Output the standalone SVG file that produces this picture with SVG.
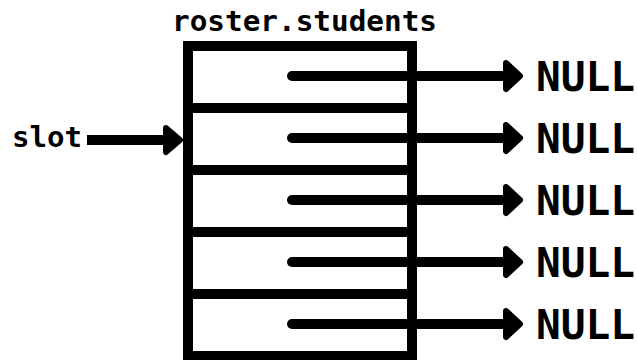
<svg xmlns="http://www.w3.org/2000/svg" width="637" height="360" viewBox="0 0 637 360">
<style>
.mono{font-family:"DejaVu Sans Mono","Liberation Mono",monospace;font-weight:bold;fill:#000}
.null{font-family:"DejaVu Sans Mono","Liberation Mono",monospace;font-weight:bold;font-size:40px;fill:#000}
.ln{stroke:#000;stroke-width:10;fill:none}
.hd{fill:#000;stroke:#000;stroke-width:6;stroke-linejoin:round}
</style>
<rect width="637" height="360" fill="#fff"/>
<g id="array">
<text class="mono" x="172" y="31" font-size="29" textLength="265" lengthAdjust="spacingAndGlyphs">roster.students</text>
<rect class="ln" x="188" y="46" width="224" height="310"/>
<line class="ln" x1="188" y1="108" x2="412" y2="108"/>
<line class="ln" x1="188" y1="170" x2="412" y2="170"/>
<line class="ln" x1="188" y1="232" x2="412" y2="232"/>
<line class="ln" x1="188" y1="294" x2="412" y2="294"/>
</g>
<g id="slot">
<text class="mono" x="12" y="147" font-size="29" textLength="70" lengthAdjust="spacingAndGlyphs">slot</text>
</g>
<g id="nulls">
<text class="null" x="536" y="90.5" textLength="99" lengthAdjust="spacingAndGlyphs">NULL</text>
<text class="null" x="536" y="152.5" textLength="99" lengthAdjust="spacingAndGlyphs">NULL</text>
<text class="null" x="536" y="214.5" textLength="99" lengthAdjust="spacingAndGlyphs">NULL</text>
<text class="null" x="536" y="276.5" textLength="99" lengthAdjust="spacingAndGlyphs">NULL</text>
<text class="null" x="536" y="338.5" textLength="99" lengthAdjust="spacingAndGlyphs">NULL</text>
</g>
<g id="connectors">
<line class="ln" x1="87" y1="140" x2="172" y2="140"/>
<polygon class="hd" points="166,128 180,140 166,152"/>
<g stroke-linecap="round">
<line class="ln" x1="292" y1="76" x2="512" y2="76"/>
<line class="ln" x1="292" y1="138" x2="512" y2="138"/>
<line class="ln" x1="292" y1="200" x2="512" y2="200"/>
<line class="ln" x1="292" y1="262" x2="512" y2="262"/>
<line class="ln" x1="292" y1="324" x2="512" y2="324"/>
</g>
<polygon class="hd" points="506,63 520,76 506,89"/>
<polygon class="hd" points="506,125 520,138 506,151"/>
<polygon class="hd" points="506,187 520,200 506,213"/>
<polygon class="hd" points="506,249 520,262 506,275"/>
<polygon class="hd" points="506,311 520,324 506,337"/>
</g>
</svg>
